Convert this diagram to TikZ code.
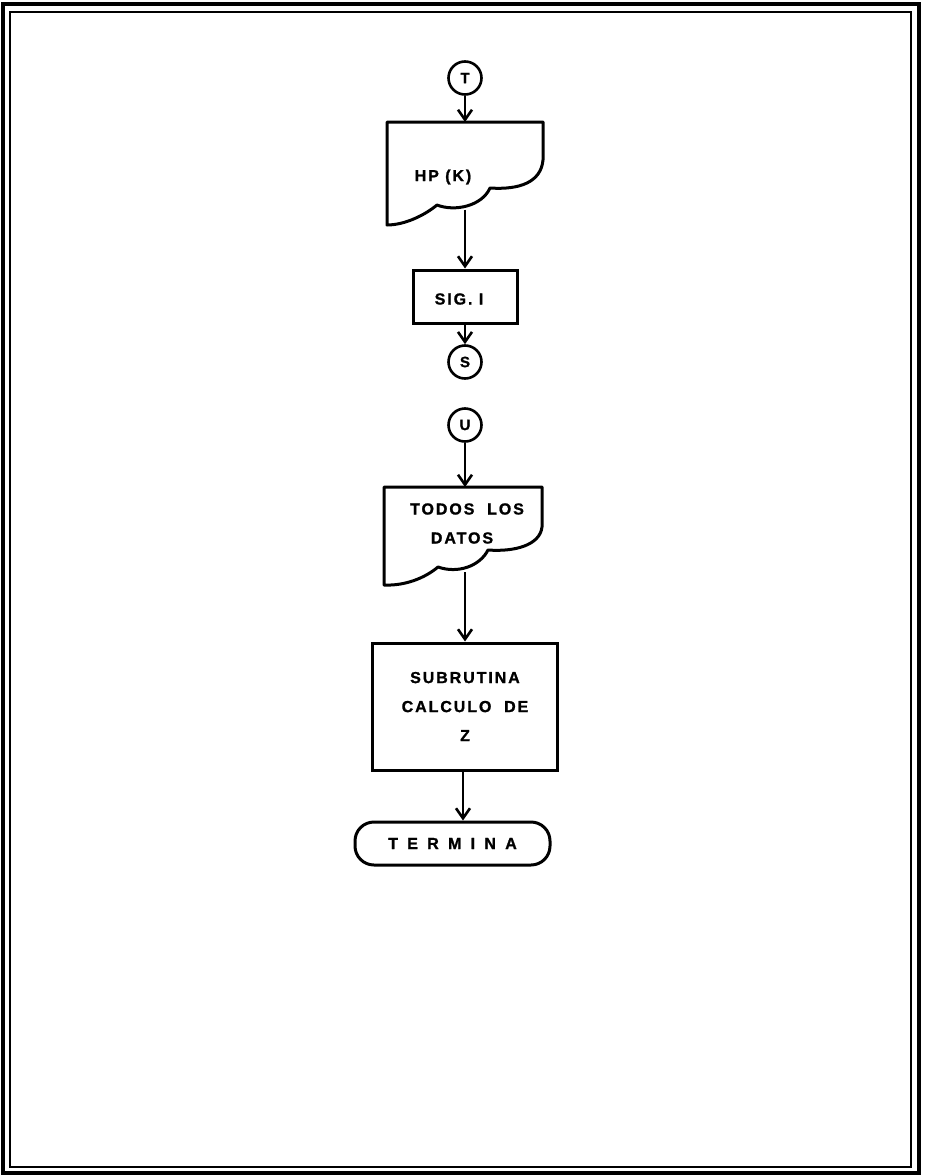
\documentclass[tikz,border=0pt]{standalone}
\usepackage{fontspec}
\newfontfamily\lett[LetterSpace=12,BoldFeatures={FakeBold=1.2}]{Liberation Sans}
\newfontfamily\lettwide[LetterSpace=58,BoldFeatures={FakeBold=1.2}]{Liberation Sans}
\usetikzlibrary{arrows.meta}
\begin{document}
\begin{tikzpicture}[x=1pt,y=-1pt,
  ln/.style={line width=3pt, line join=round},
  arr/.style={line width=2.6pt, -{Straight Barb[length=10pt,width=14pt,line width=2.6pt]}},
  conn/.style={circle, draw, line width=2.6pt, minimum size=33pt, inner sep=0pt,
    font=\lett\bfseries\fontsize{15}{15}\selectfont},
  lbl/.style={font=\lett\bfseries\fontsize{16}{16}\selectfont, inner sep=0pt},
  proc/.style={draw, line width=3pt, inner sep=0pt},
]
\useasboundingbox (0,0) rectangle (925,1175);
% double frame
\draw[line width=3.5pt] (3,4) rectangle (919,1173);
\draw[line width=2.4pt] (10,12) rectangle (911,1167);

% connector T
\node[conn] (T) at (465,78) {T};

% HP (K) document shape
\draw[ln] (387,225) -- (387,122) -- (543,122) -- (543,160)
  .. controls (541,182) and (520,190) .. (490,188)
  .. controls (482,206) and (455,212) .. (437,205)
  .. controls (425,215) and (405,225) .. cycle;
\coordinate (hpTop) at (465,122);
\coordinate (hpBot) at (465,209.5);
\node[lbl] (hp) at (443,177) {HP (K)};

% SIG. I box
\node[proc, minimum width=104pt, minimum height=53pt] (sig) at (465,296.5) {};
\node[lbl] (sigt) at (459,299) {SIG. I};

% connectors S, U
\node[conn] (S) at (465,362) {S};
\node[conn] (U) at (465,425) {U};

% TODOS LOS DATOS document shape
\draw[ln] (384,585) -- (384,487) -- (542,487) -- (542,527)
  .. controls (540,545) and (515,552) .. (488,550)
  .. controls (480,566) and (458,574) .. (438,567)
  .. controls (425,578) and (405,586) .. cycle;
\coordinate (tdTop) at (465,487);
\coordinate (tdBot) at (465,572);
\node[lbl] (td1) at (467,509) {TODOS\ \ LOS};
\node[lbl] (td2) at (462,538) {DATOS};

% SUBRUTINA box
\node[proc, minimum width=185pt, minimum height=127pt, align=center,
  font=\lett\bfseries\fontsize{16}{29}\selectfont] (sub) at (465,706.5)
  {SUBRUTINA\\CALCULO\ \ DE\\Z};

% TERMINA terminal
\node[draw, line width=3pt, rounded corners=19pt, minimum width=195pt,
  minimum height=43pt, inner sep=0pt,
  font=\lettwide\bfseries\fontsize{16}{16}\selectfont] (term) at (452.5,843.5) {TERMINA};

% arrows
\draw[arr] (T) -- (hpTop);
\draw[arr] (hpBot) -- (sig);
\draw[arr] (sig) -- (S);
\draw[arr] (U) -- (tdTop);
\draw[arr] (tdBot) -- (sub);
\coordinate (subOut) at (463,770);
\draw[arr] (subOut) -- (subOut |- term.north);
\end{tikzpicture}
\end{document}
